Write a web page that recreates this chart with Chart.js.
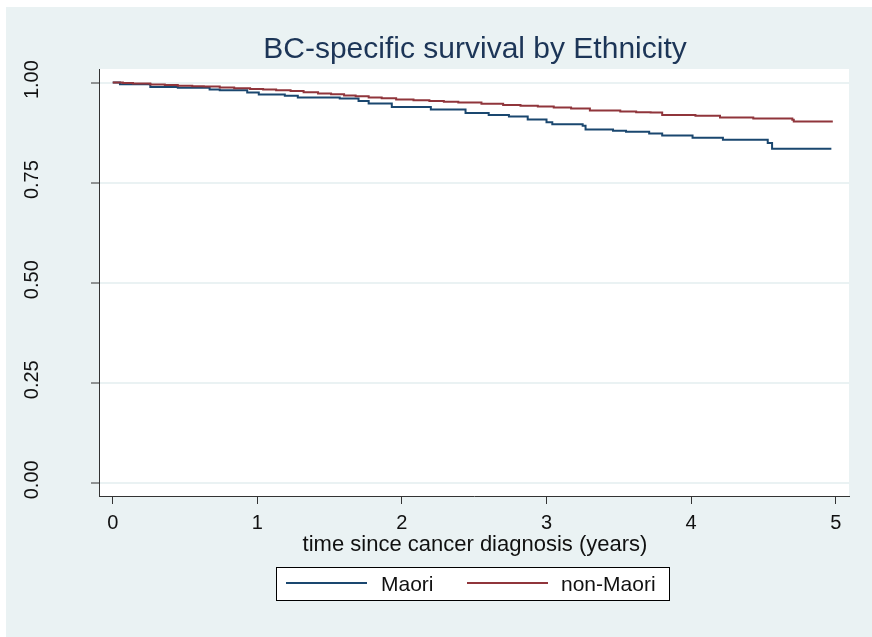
<!DOCTYPE html>
<html>
<head>
<meta charset="utf-8">
<script src="https://cdn.jsdelivr.net/npm/chart.js@4/dist/chart.umd.min.js"></script>
<style>
  html, body { margin: 0; padding: 0; background: #ffffff; }
  #wrap { position: relative; width: 872px; height: 637px; }
</style>
</head>
<body>
<div id="wrap"><canvas id="chart"></canvas></div>
<script>
// Kaplan-Meier steps (time in years, survival)
const maoriTime = [0, 0.05, 0.26, 0.45, 0.67, 0.74, 0.93, 1.01, 1.19, 1.28, 1.57, 1.70, 1.77, 1.93, 2.20, 2.44,
  2.60, 2.74, 2.87, 3.00, 3.04, 3.25, 3.27, 3.46, 3.55, 3.71, 3.80, 4.01, 4.22, 4.53, 4.56, 4.97];
const maoriSurv = [1.000, 0.996, 0.989, 0.987, 0.983, 0.981, 0.975, 0.970, 0.967, 0.963, 0.960, 0.954, 0.948, 0.939, 0.933, 0.924,
  0.919, 0.915, 0.908, 0.901, 0.896, 0.892, 0.883, 0.880, 0.877, 0.873, 0.868, 0.862, 0.857, 0.849, 0.835, 0.835];

const nonMaoriTime = [0, 0.07, 0.14, 0.26, 0.36, 0.45, 0.55, 0.63, 0.74, 0.84, 0.95, 1.04, 1.13, 1.23, 1.32, 1.42, 1.51, 1.60,
  1.68, 1.77, 1.86, 1.96, 2.08, 2.19, 2.29, 2.39, 2.55, 2.70, 2.82, 2.94, 3.05, 3.17, 3.30, 3.51, 3.62, 3.72, 3.80,
  4.03, 4.20, 4.43, 4.70, 4.71, 4.98];
const nonMaoriSurv = [1.000, 0.999, 0.998, 0.995, 0.994, 0.992, 0.991, 0.990, 0.988, 0.986, 0.984, 0.983, 0.981, 0.979, 0.976, 0.973, 0.971, 0.968,
  0.966, 0.963, 0.961, 0.958, 0.956, 0.954, 0.952, 0.950, 0.947, 0.944, 0.942, 0.940, 0.938, 0.935, 0.930, 0.928, 0.926, 0.925, 0.919,
  0.917, 0.913, 0.910, 0.907, 0.903, 0.903];

const seriesNames = ["Maori", "non-Maori"];
const xTicks = [0, 1, 2, 3, 4, 5];
const yTicks = [0, 0.25, 0.5, 0.75, 1];
const yTickLabels = ["0.00", "0.25", "0.50", "0.75", "1.00"];

const BLUE = "#1a476f";
const RED = "#90353b";
const PANEL = "#eaf2f3";
const INK = "#111111";
const FONT = "Liberation Sans, Arial, sans-serif";

function toPoints(xs, ys) {
  return xs.map((x, i) => ({ x: x, y: ys[i] }));
}

// background, title, tick labels, axis title, legend
const stataLook = {
  id: "stataLook",
  beforeDraw(chart) {
    const c = chart.ctx;
    c.save();
    c.fillStyle = "#ffffff";
    c.fillRect(0, 0, chart.width, chart.height);
    c.fillStyle = PANEL;
    c.fillRect(6, 7, chart.width - 6, chart.height - 7);
    const a = chart.chartArea;
    c.fillStyle = "#ffffff";
    c.fillRect(a.left, a.top, a.right - a.left, a.bottom - a.top);
    c.restore();
  },
  afterDraw(chart) {
    const c = chart.ctx;
    const a = chart.chartArea;
    const xs = chart.scales.x, ys = chart.scales.y;
    const mid = (a.left + a.right) / 2;
    c.save();
    // title
    c.fillStyle = "#1c3557";
    c.font = "30px " + FONT;
    c.textAlign = "center";
    c.textBaseline = "alphabetic";
    c.fillText("BC-specific survival by Ethnicity", mid + 1, 58);

    // y tick labels, rotated
    c.fillStyle = INK;
    c.font = "20px " + FONT;
    yTicks.forEach((v, i) => {
      const py = ys.getPixelForValue(v);
      c.save();
      c.translate(38, py - 3);
      c.rotate(-Math.PI / 2);
      c.fillText(yTickLabels[i], 0, 0);
      c.restore();
    });

    // x tick labels
    xTicks.forEach(v => {
      c.fillText(String(v), xs.getPixelForValue(v), 529);
    });
    // x axis title
    c.font = "22px " + FONT;
    c.fillText("time since cancer diagnosis (years)", mid + 1, 551);

    // legend
    const bx = 276, by = 567, bw = 393, bh = 33;
    c.fillStyle = "#ffffff";
    c.fillRect(bx, by, bw, bh);
    c.strokeStyle = "#000000";
    c.lineWidth = 1;
    c.strokeRect(bx + 0.5, by + 0.5, bw, bh);
    const ly = by + 16;
    const items = [
      { color: BLUE, x0: 286, x1: 367, tx: 381, label: seriesNames[0] },
      { color: RED, x0: 467, x1: 548, tx: 561, label: seriesNames[1] }
    ];
    c.textAlign = "left";
    c.font = "21px " + FONT;
    items.forEach(it => {
      c.strokeStyle = it.color;
      c.lineWidth = 2;
      c.beginPath();
      c.moveTo(it.x0, ly);
      c.lineTo(it.x1, ly);
      c.stroke();
      c.fillStyle = INK;
      c.fillText(it.label, it.tx, by + 24);
    });
    c.restore();
  }
};

const ctx = document.getElementById("chart").getContext("2d");
const chart = new Chart(ctx, {
  type: "line",
  data: {
    datasets: [
      {
        label: seriesNames[0],
        data: toPoints(maoriTime, maoriSurv),
        borderColor: BLUE,
        borderWidth: 2,
        pointRadius: 0,
        stepped: "before",
        order: 2
      },
      {
        label: seriesNames[1],
        data: toPoints(nonMaoriTime, nonMaoriSurv),
        borderColor: RED,
        borderWidth: 2,
        pointRadius: 0,
        stepped: "before",
        order: 1
      }
    ]
  },
  options: {
    responsive: true,
    maintainAspectRatio: false,
    devicePixelRatio: 1,
    animation: false,
    layout: { padding: { left: 0, top: 69, right: 23, bottom: 0 } },
    plugins: {
      legend: { display: false },
      title: { display: false },
      tooltip: { enabled: false }
    },
    scales: {
      x: {
        type: "linear",
        min: -0.095,
        max: 5.092,
        afterBuildTicks: s => { s.ticks = xTicks.map(v => ({ value: v })); },
        afterFit: s => { s.height = 141; },
        ticks: { display: false },
        grid: {
          drawOnChartArea: false,
          drawTicks: true,
          tickLength: 8,
          tickColor: "#333333",
          tickWidth: 1
        },
        border: { display: true, color: "#333333", width: 1 }
      },
      y: {
        type: "linear",
        min: -0.033,
        max: 1.034,
        afterBuildTicks: s => { s.ticks = yTicks.map(v => ({ value: v })); },
        afterFit: s => { s.width = 99; },
        ticks: { display: false },
        grid: {
          color: PANEL,
          lineWidth: 2,
          drawTicks: true,
          tickLength: 8,
          tickColor: "#333333",
          tickWidth: 1
        },
        border: { display: true, color: "#333333", width: 1 }
      }
    }
  },
  plugins: [stataLook]
});
</script>
</body>
</html>
